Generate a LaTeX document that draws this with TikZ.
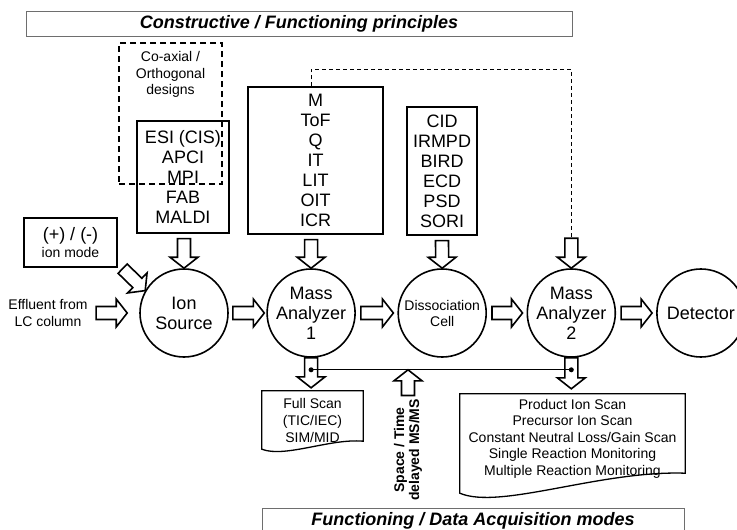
\documentclass[tikz,border=0pt]{standalone}
\usepackage{fontspec}
\setmainfont{Liberation Sans}
\usepackage{tikz}
\usetikzlibrary{positioning,calc}
\definecolor{bannerline}{RGB}{110,110,110}

% hollow block arrow from #1 to #2
\newcommand{\fatarrow}[2]{%
  \draw[hollow] let \p1=#1, \p2=#2, \p3=($(\p2)!11pt!(\p1)$) in
    ($(\p1)!6.5pt!90:(\p2)$) -- ($(\p3)!6.5pt!90:(\p2)$) -- ($(\p3)!14pt!90:(\p2)$)
    -- (\p2) -- ($(\p3)!14pt!-90:(\p2)$) -- ($(\p3)!6.5pt!-90:(\p2)$)
    -- ($(\p1)!6.5pt!-90:(\p2)$) -- cycle;}

\begin{document}
\begin{tikzpicture}[x=1pt, y=-1pt,
  bigtxt/.style={font=\fontsize{18}{20}\selectfont},
  smalltxt/.style={font=\fontsize{14}{16.5}\selectfont},
  stage/.style={draw, circle, line width=1.6pt, minimum size=88pt, inner sep=0pt, align=center, bigtxt},
  listbox/.style={draw, line width=1.3pt, inner sep=0pt, align=center, bigtxt},
  banner/.style={draw=bannerline, line width=0.9pt, inner sep=0pt, font=\fontsize{18}{20}\selectfont\bfseries\itshape},
  hollow/.style={draw, line width=1.6pt, fill=white},
  docline/.style={draw, line width=1.3pt},
  feedback/.style={line width=1pt, dash pattern=on 4pt off 3pt}]
  \useasboundingbox (0,0) rectangle (737,530);

  \node[banner, minimum width=546pt, minimum height=25pt] (ttop) at (299,23.5) {Constructive / Functioning principles};
  \node[banner, minimum width=422pt, minimum height=26pt] (tbot) at (473,521) {Functioning / Data Acquisition modes};

  % stages
  \node[stage] (src) at (184,313) {Ion\\Source};
  \node[stage, right=37.5pt of src] (ma1) {Mass\\Analyzer\\1};
  \node[stage, right=41.5pt of ma1, font=\fontsize{14}{16}\selectfont] (dc) {Dissociation\\Cell};
  \node[stage, right=39.5pt of dc] (ma2) {Mass\\Analyzer\\2};
  \node[stage, right=40pt of ma2] (det) {Detector};

  % principles
  \node[draw, line width=1.5pt, dash pattern=on 6pt off 4pt, minimum width=103pt, minimum height=141pt,
        label={[smalltxt, align=center, anchor=north, yshift=-6pt]north:{Co-axial /\\Orthogonal\\designs}}] (coax) at (170.5,113.5) {};
  \node[listbox, minimum width=92pt, minimum height=112pt] (ionlist) at (183,177) {ESI (CIS)\\APCI\\MPI\\FAB\\MALDI};
  \node[listbox, minimum width=135pt, minimum height=147pt] (mlist) at (315.5,160.5) {M\\ToF\\Q\\IT\\LIT\\OIT\\ICR};
  \node[listbox, minimum width=70pt, minimum height=128pt] (dclist) at (442,171) {CID\\IRMPD\\BIRD\\ECD\\PSD\\SORI};
  \node[listbox, smalltxt, minimum width=93pt, minimum height=49pt] (mode) at (70.5,242.5) {{\fontsize{18}{20}\selectfont (+) / (-)}\\ion mode};
  \node[smalltxt, align=center] (eff) at (48,313) {Effluent from\\LC column};

  % acquisition modes
  \node[smalltxt, align=center, minimum width=101pt, minimum height=58pt, inner sep=0pt, font=\fontsize{14}{17}\selectfont] (fscan) at (312.5,420) {Full Scan\\(TIC/IEC)\\SIM/MID};
  \node[smalltxt, align=center, minimum width=225pt, minimum height=89pt, inner sep=0pt] (pscan) at (572.5,438.5) {Product Ion Scan\\Precursor Ion Scan\\Constant Neutral Loss/Gain Scan\\Single Reaction Monitoring\\Multiple Reaction Monitoring};
  \node[font=\fontsize{14}{15}\selectfont\bfseries, align=center, rotate=90] (delay) at (408,450) {Space / Time\\delayed MS/MS};

  \draw[docline] (fscan.north west) -- (fscan.north east) -- ($(fscan.south east)+(0,-8)$)
    .. controls +(-33,-3) and +(23,9) .. (fscan.south west) -- cycle;
  \draw[docline] (pscan.north west) -- (pscan.north east) -- ($(pscan.south east)+(0,-10)$)
    .. controls +(-85,-3) and +(40,17) .. ($(pscan.south west)+(0,10)$) -- cycle;

  % flow
  \fatarrow{($(eff.east)+(5,0)$)}{($(src.west)+(-12,0)$)}
  \fatarrow{($(src.east)+(4,0)$)}{($(ma1.west)+(-2,0)$)}
  \fatarrow{($(ma1.east)+(5,0)$)}{($(dc.west)+(-4,0)$)}
  \fatarrow{($(dc.east)+(5,0)$)}{($(ma2.west)+(-4,0)$)}
  \fatarrow{($(ma2.east)+(5,0)$)}{($(det.west)+(-4,0)$)}
  \fatarrow{($(mode.south east)+(5,1)$)}{(src.150)}
  \fatarrow{($(ionlist.south)+(1,5)$)}{(src.north)}
  \fatarrow{($(ma1 |- mlist.south)+(0,5)$)}{(ma1.north)}
  \fatarrow{($(dclist.south)+(0,5)$)}{(dc.north)}
  \coordinate (fb) at ($(ma2.north)+(0,-30)$);
  \fatarrow{(fb)}{(ma2.north)}
  \draw[feedback] (ma1 |- mlist.north) -- ++(0,-17) -| (fb);

  \fatarrow{(ma1.south)}{($(ma1 |- fscan.north)+(0,-3)$)}
  \fatarrow{(ma2.south)}{($(ma2 |- pscan.north)+(0,-5)$)}
  \coordinate (d1) at ($(ma1.south)+(0,12)$);
  \coordinate (d2) at ($(ma2.south)+(0,12)$);
  \coordinate (jn) at (delay.east |- d1);
  \fatarrow{(delay.east)}{(jn)}
  \draw[line width=1pt] (d1) -- (d2);
  \fill (d1) circle (2.5);
  \fill (d2) circle (2.5);
\end{tikzpicture}
\end{document}
